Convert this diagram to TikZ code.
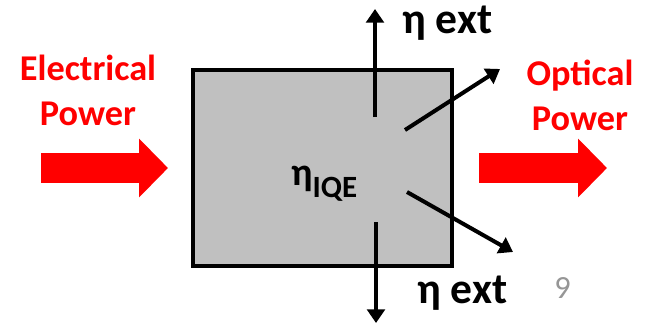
\documentclass[tikz,border=0pt]{standalone}
\usepackage{fontspec}
\setmainfont{Carlito}
\usetikzlibrary{positioning, arrows.meta}
\definecolor{boxgray}{RGB}{192,192,192}
\definecolor{pagegray}{RGB}{150,150,150}

\begin{document}
\begin{tikzpicture}[x=0.025cm, y=-0.025cm]
    % Stili
    \tikzset{
        powerarrow/.style={
            draw=red,
            line width=0.75cm,
            -{Triangle[length=0.72cm, width=1.42cm]}
        },
        rayarrow/.style={
            draw=black,
            line width=0.1cm,
            -{Triangle[length=0.34cm, width=0.44cm]}
        },
        powerlabel/.style={
            text=red,
            font=\fontsize{25.8}{30}\selectfont\bfseries,
            inner sep=0pt,
            anchor=base
        },
        extlabel/.style={
            font=\fontsize{31}{36}\selectfont\bfseries,
            inner sep=0pt,
            anchor=base west
        }
    }
    \useasboundingbox (0,0) rectangle (648,323);

    % --- Dispositivo ---
    \node[draw=black, line width=0.1cm, fill=boxgray,
          minimum width=6.45cm, minimum height=4.92cm, inner sep=0pt]
          (led) at (322.5,168) {};
    \node[font=\fontsize{28}{32}\selectfont\bfseries, inner sep=0pt, anchor=base west]
          (iqe) at (291,185) {η\raisebox{-9pt}{\fontsize{22}{26}\selectfont IQE}};

    % --- Potenza elettrica (ingresso) ---
    \node[powerlabel] (elec) at (88,80) {Electrical};
    \node[powerlabel] (elecp) at (88,125) {Power};
    \coordinate (inA) at (41,168);
    \coordinate (inB) at (168,168);
    \draw[powerarrow] (inA) -- (inB);

    % --- Potenza ottica (uscita) ---
    \node[powerlabel] (opt) at (580,85) {Optical};
    \node[powerlabel] (optp) at (580,130) {Power};
    \coordinate (outA) at (479,168);
    \coordinate (outB) at (607,168);
    \draw[powerarrow] (outA) -- (outB);

    % --- Raggi estratti ---
    \coordinate (upS) at (375,117);
    \coordinate (upE) at (375,9);
    \coordinate (urS) at (405,130);
    \coordinate (urE) at (500,69);
    \coordinate (drS) at (407,192);
    \coordinate (drE) at (513,252);
    \coordinate (dnS) at (376,222);
    \coordinate (dnE) at (376,323);
    \draw[rayarrow] (upS) -- (upE);
    \draw[rayarrow] (urS) -- (urE);
    \draw[rayarrow] (drS) -- (drE);
    \draw[rayarrow] (dnS) -- (dnE);

    % Etichette
    \node[extlabel] (exttop) at (402,33) {η ext};
    \node[extlabel] (extbot) at (417,303) {η ext};
    \node[font=\fontsize{23}{27}\selectfont, text=pagegray, inner sep=0pt,
          anchor=base west] (pagenum) at (554,298) {9};
\end{tikzpicture}
\end{document}
